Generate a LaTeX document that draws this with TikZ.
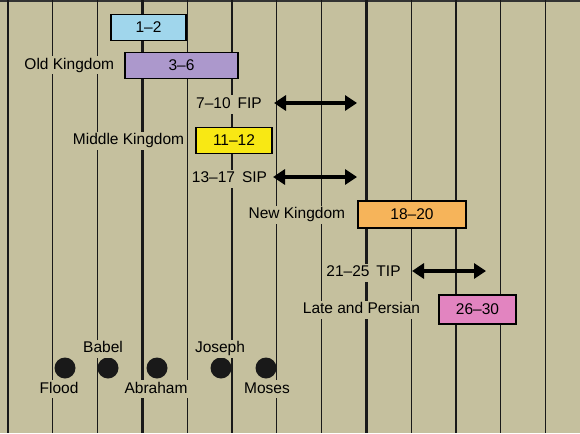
\documentclass[tikz,border=0pt]{standalone}
\usepackage{fontspec}
\setmainfont{Liberation Sans}
\usetikzlibrary{arrows.meta,positioning}
\definecolor{paperkhaki}{RGB}{197,192,158}
\definecolor{dynblue}{RGB}{160,214,236}
\definecolor{dynpurple}{RGB}{172,152,204}
\definecolor{dynyellow}{RGB}{248,232,20}
\definecolor{dynorange}{RGB}{246,180,90}
\definecolor{dynpink}{RGB}{226,132,192}

\begin{document}
\begin{tikzpicture}[
    x=1pt, y=-1pt,
    dyn/.style={rectangle, draw, line width=1.4pt, minimum height=26pt, inner sep=0pt, font=\fontsize{15.5}{18}\selectfont},
    lbl/.style={fill=paperkhaki, inner sep=2pt, text height=11pt, text depth=3pt, font=\fontsize{15.5}{18}\selectfont},
    event/.style={circle, fill=black!90, minimum size=21pt, inner sep=0pt},
    arrow/.style={{Triangle[length=12pt,width=15pt]}-{Triangle[length=12pt,width=15pt]}, line width=4pt}
]
\fill[paperkhaki] (0,0) rectangle (580,433);
\useasboundingbox (0,0) rectangle (580,433);
\draw[line width=2pt, black!80] (0,1) -- (580,1);

% century lines
\foreach \k in {0,...,12} {
    \draw[line width=1.1pt, black!90] ({8+44.8*\k},0) -- ({8+44.8*\k},433);
}
\foreach \k in {3,8} {
    \draw[line width=2.2pt, black!90] ({8+44.8*\k},0) -- ({8+44.8*\k},433);
}

% dynasties
\node[dyn, fill=dynblue, minimum width=75pt] (d12) at (148.5,27.5) {1--2};
\node[dyn, fill=dynpurple, minimum width=113pt] (d36) at (181.5,65.5) {3--6};
\node[lbl, left=8pt of d36] (old) {Old Kingdom};

\node[lbl] (fip) at (229,104.5) {7--10\hspace{7pt}FIP};
\coordinate (fipL) at (274,103);
\coordinate (fipR) at (357,103);
\draw[arrow] (fipL) -- (fipR);

\node[dyn, fill=dynyellow, minimum width=76pt] (d1112) at (234,140.5) {11--12};
\node[lbl, left=9pt of d1112] (mid) {Middle Kingdom};

\node[lbl] (sip) at (229.5,178.5) {13--17\hspace{7pt}SIP};
\coordinate (sipL) at (273,177);
\coordinate (sipR) at (357,177);
\draw[arrow] (sipL) -- (sipR);

\node[dyn, fill=dynorange, minimum width=108pt, minimum height=27pt] (d1820) at (412,214.5) {18--20};
\node[lbl, left=10pt of d1820] (new) {New Kingdom};

\node[lbl] (tip) at (363.5,272.5) {21--25\hspace{7pt}TIP};
\coordinate (tipL) at (412,271);
\coordinate (tipR) at (486,271);
\draw[arrow] (tipL) -- (tipR);

\node[dyn, fill=dynpink, minimum width=77pt, minimum height=29pt] (d2630) at (477.5,309.5) {26--30};
\node[lbl, left=16pt of d2630] (late) {Late and Persian};

% events
\node[event] (flood) at (65,368) {};
\node[event] (babel) at (108,368) {};
\node[event] (abraham) at (157,368) {};
\node[event] (joseph) at (221,368) {};
\node[event] (moses) at (266,368) {};
\node[lbl] (floodl) at (59,389) {Flood};
\node[lbl] (babell) at (103,348.5) {Babel};
\node[lbl] (abrahaml) at (156,389) {Abraham};
\node[lbl] (josephl) at (220,348.5) {Joseph};
\node[lbl] (mosesl) at (267,389) {Moses};
\end{tikzpicture}
\end{document}
